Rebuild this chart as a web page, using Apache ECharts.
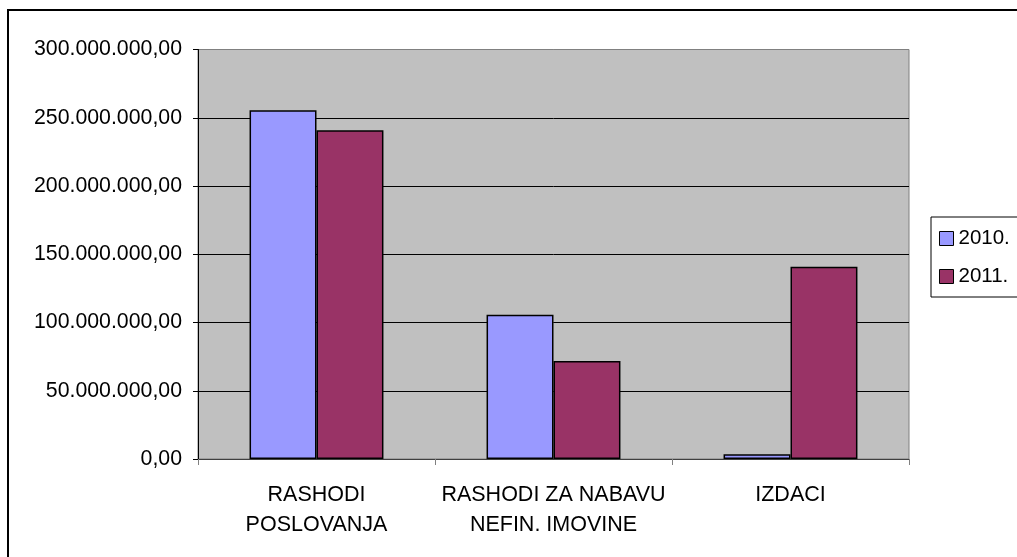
<!DOCTYPE html>
<html>
<head>
<meta charset="utf-8">
<script src="https://cdn.jsdelivr.net/npm/echarts@6/dist/echarts.min.js"></script>
<style>
  html, body { margin: 0; padding: 0; background: #fff; }
  #chart { width: 1017px; height: 557px; }
</style>
</head>
<body>
<div id="chart"></div>
<script>
const categories = ['RASHODI\nPOSLOVANJA', 'RASHODI ZA NABAVU\nNEFIN. IMOVINE', 'IZDACI'];
const years = ['2010.', '2011.'];
const values2010 = [255500000, 105700000, 3400000];
const values2011 = [240800000, 71800000, 140900000];
const colors = ['#9999ff', '#993366'];

function fmt(v) {
  const s = Math.round(v).toString().replace(/\B(?=(\d{3})+(?!\d))/g, '.');
  return s + ',00';
}

const chart = echarts.init(document.getElementById('chart'));
const font = 'Liberation Sans, Arial, sans-serif';

chart.setOption({
  animation: false,
  backgroundColor: '#fff',
  textStyle: { fontFamily: font, color: '#000' },
  graphic: [{
    type: 'rect',
    shape: { x: 8, y: 10, width: 1100, height: 600 },
    style: { fill: 'none', stroke: '#000', lineWidth: 2 },
    silent: true
  }],
  grid: {
    left: 198, right: 108, top: 49.5, bottom: 98,
    show: true,
    backgroundColor: '#c0c0c0',
    borderColor: '#808080',
    borderWidth: 1
  },
  legend: {
    orient: 'vertical',
    left: 931, top: 217,
    padding: [11, 40, 10, 8],
    borderColor: '#000',
    borderWidth: 1,
    itemWidth: 14, itemHeight: 14,
    itemGap: 17,
    icon: 'rect',
    itemStyle: { borderColor: '#000', borderWidth: 1 },
    textStyle: { fontFamily: font, fontSize: 20.5, color: '#000', lineHeight: 20 },
    data: years
  },
  xAxis: {
    type: 'category',
    data: categories,
    axisLine: { lineStyle: { color: '#404040', width: 1 } },
    axisTick: { show: true, length: 6, lineStyle: { color: '#808080' } },
    axisLabel: {
      margin: 21, fontSize: 21.5, lineHeight: 30, color: '#000', fontFamily: font, interval: 0
    }
  },
  yAxis: {
    type: 'value',
    min: 0, max: 300000000, interval: 50000000,
    axisLine: { show: true, lineStyle: { color: '#000', width: 1 } },
    axisTick: { show: true, length: 5, lineStyle: { color: '#000' } },
    axisLabel: { margin: 16, fontSize: 21.3, color: '#000', fontFamily: font, formatter: fmt },
    splitLine: {
      show: true,
      lineStyle: { color: ['#000', '#000', '#000', '#000', '#000', '#000', '#808080'], width: 1 }
    }
  },
  series: [
    {
      name: years[0], type: 'bar', data: values2010,
      barGap: 0, barCategoryGap: '43.5%',
      itemStyle: { color: colors[0], borderColor: '#000', borderWidth: 1.5 }
    },
    {
      name: years[1], type: 'bar', data: values2011,
      barGap: 0, barCategoryGap: '43.5%',
      itemStyle: { color: colors[1], borderColor: '#000', borderWidth: 1.5 }
    }
  ]
});
</script>
</body>
</html>
